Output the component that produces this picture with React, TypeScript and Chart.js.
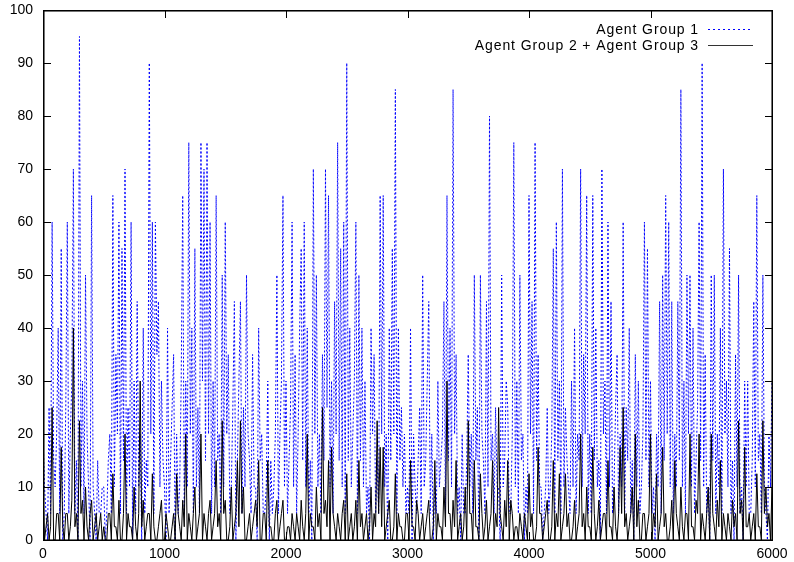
import React, { useEffect, useRef } from "react";
import { Chart, registerables } from "chart.js";

Chart.register(...registerables);

// Sample spacing along the x axis (simulation time units)
const sampleStep = 12.5;

const xTicks = [0, 1000, 2000, 3000, 4000, 5000, 6000];
const yTicks = [0, 10, 20, 30, 40, 50, 60, 70, 80, 90, 100];

const seriesNames = ["Agent Group 1", "Agent Group 2 + Agent Group 3"];

const agentGroup1 = [
  20, 10, 5, 0, 25, 5, 60, 15, 10, 20, 40, 5, 55, 0, 5, 25, 60, 5, 20, 30,
  70, 5, 15, 0, 95, 10, 30, 5, 50, 20, 10, 0, 65, 10, 5, 0, 15, 5, 5, 10,
  10, 0, 5, 15, 20, 5, 65, 10, 35, 20, 60, 5, 55, 15, 70, 5, 25, 10, 60, 0,
  30, 5, 45, 10, 20, 0, 40, 5, 15, 10, 90, 20, 60, 5, 60, 35, 45, 10, 30, 15,
  10, 0, 40, 5, 15, 25, 35, 0, 20, 5, 10, 30, 65, 5, 30, 10, 75, 20, 40, 5,
  55, 10, 25, 5, 75, 30, 70, 15, 75, 20, 60, 5, 30, 10, 65, 15, 20, 5, 50, 10,
  60, 20, 35, 5, 10, 25, 45, 0, 15, 30, 45, 5, 25, 10, 50, 20, 15, 5, 35, 10,
  10, 0, 40, 15, 20, 5, 5, 10, 30, 0, 15, 5, 10, 20, 50, 5, 20, 30, 65, 10,
  30, 5, 15, 25, 60, 10, 35, 5, 20, 40, 55, 15, 60, 10, 40, 5, 15, 0, 70, 20,
  50, 10, 20, 5, 35, 15, 70, 25, 65, 10, 30, 5, 45, 20, 75, 15, 55, 10, 60, 5,
  90, 15, 40, 10, 20, 30, 60, 5, 50, 15, 40, 10, 30, 5, 10, 0, 40, 20, 35, 5,
  15, 5, 65, 20, 65, 10, 20, 0, 40, 15, 55, 20, 85, 5, 40, 15, 25, 10, 20, 5,
  10, 5, 40, 0, 20, 10, 5, 15, 25, 5, 50, 10, 15, 30, 45, 5, 20, 0, 10, 5,
  30, 10, 15, 20, 45, 5, 65, 15, 40, 10, 85, 20, 35, 5, 10, 0, 20, 5, 5, 15,
  35, 10, 20, 5, 50, 15, 25, 0, 50, 20, 15, 5, 45, 10, 80, 15, 20, 5, 25, 10,
  10, 0, 50, 10, 15, 30, 25, 5, 5, 20, 75, 10, 30, 5, 50, 15, 20, 0, 10, 5,
  65, 20, 45, 5, 75, 15, 35, 10, 10, 0, 5, 10, 25, 5, 10, 20, 55, 5, 60, 15,
  30, 5, 70, 10, 25, 15, 10, 5, 30, 10, 40, 5, 20, 15, 70, 10, 35, 20, 65, 5,
  20, 5, 65, 15, 40, 10, 15, 0, 70, 20, 30, 5, 60, 10, 45, 5, 10, 25, 35, 5,
  20, 10, 60, 5, 25, 15, 40, 5, 15, 0, 35, 10, 30, 5, 10, 20, 60, 15, 55, 10,
  30, 5, 10, 0, 20, 10, 45, 5, 50, 15, 65, 20, 60, 10, 45, 5, 20, 10, 45, 15,
  85, 10, 30, 5, 50, 20, 50, 10, 40, 5, 15, 25, 60, 15, 90, 10, 35, 5, 10, 0,
  50, 15, 50, 5, 20, 10, 40, 5, 70, 20, 30, 10, 55, 5, 15, 0, 35, 10, 50, 5,
  10, 0, 30, 10, 30, 5, 5, 15, 45, 10, 65, 15, 20, 5, 50, 10, 5, 0, 20, 10,
  30,
];

const agentGroup23 = [
  10, 0, 2.5, 5, 0, 2.5, 25, 0, 0, 5, 5, 0, 17.5, 2.5, 0, 5, 5, 0, 2.5, 7.5,
  40, 2.5, 5, 0, 22.5, 5, 7.5, 0, 10, 2.5, 0, 5, 7.5, 0, 2.5, 5, 0, 2.5, 5, 0,
  2.5, 0, 0, 5, 5, 0, 12.5, 2.5, 2.5, 0, 7.5, 0, 0, 5, 20, 0, 5, 2.5, 2.5, 0,
  10, 2.5, 0, 5, 30, 2.5, 7.5, 0, 2.5, 5, 5, 0, 12.5, 2.5, 0, 0, 2.5, 5, 7.5, 0,
  0, 5, 2.5, 0, 0, 2.5, 5, 0, 12.5, 5, 2.5, 0, 7.5, 2.5, 20, 0, 5, 2.5, 0, 5,
  10, 0, 2.5, 5, 20, 0, 5, 2.5, 0, 5, 7.5, 0, 2.5, 5, 15, 2.5, 5, 0, 22.5, 5,
  7.5, 0, 0, 2.5, 10, 0, 2.5, 5, 15, 2.5, 22.5, 5, 10, 0, 0, 2.5, 5, 0, 2.5, 5,
  7.5, 2.5, 15, 0, 0, 5, 5, 0, 15, 2.5, 2.5, 0, 0, 5, 7.5, 0, 2.5, 5, 7.5, 0,
  0, 2.5, 2.5, 0, 5, 2.5, 0, 5, 2.5, 0, 7.5, 2.5, 0, 5, 20, 0, 5, 2.5, 2.5, 0,
  10, 2.5, 5, 0, 25, 5, 7.5, 2.5, 15, 0, 17.5, 5, 2.5, 0, 5, 2.5, 0, 5, 7.5, 0,
  12.5, 0, 2.5, 5, 0, 2.5, 7.5, 0, 15, 2.5, 5, 0, 2.5, 5, 0, 2.5, 10, 0, 5, 2.5,
  22.5, 5, 17.5, 2.5, 17.5, 0, 2.5, 5, 7.5, 0, 0, 2.5, 12.5, 0, 5, 2.5, 2.5, 0, 0, 5,
  5, 0, 15, 2.5, 2.5, 0, 7.5, 5, 0, 2.5, 5, 0, 2.5, 5, 7.5, 0, 0, 2.5, 15, 0,
  5, 2.5, 2.5, 0, 10, 2.5, 30, 5, 5, 0, 7.5, 2.5, 15, 0, 2.5, 5, 0, 2.5, 10, 0,
  22.5, 5, 5, 0, 15, 2.5, 2.5, 0, 12.5, 5, 0, 2.5, 7.5, 0, 2.5, 5, 15, 0, 5, 2.5,
  25, 5, 2.5, 0, 7.5, 2.5, 15, 0, 7.5, 5, 0, 2.5, 2.5, 0, 5, 2.5, 0, 5, 2.5, 0,
  12.5, 2.5, 5, 0, 0, 2.5, 17.5, 5, 5, 0, 2.5, 5, 7.5, 0, 0, 2.5, 15, 0, 5, 2.5,
  12.5, 0, 2.5, 5, 12.5, 2.5, 5, 0, 0, 2.5, 7.5, 0, 2.5, 5, 20, 2.5, 5, 0, 10, 2.5,
  2.5, 0, 17.5, 5, 0, 2.5, 7.5, 0, 2.5, 5, 5, 0, 15, 2.5, 2.5, 0, 10, 2.5, 0, 5,
  17.5, 5, 25, 2.5, 5, 0, 2.5, 5, 10, 0, 20, 2.5, 7.5, 0, 0, 5, 5, 0, 2.5, 5,
  20, 0, 5, 2.5, 12.5, 0, 2.5, 5, 17.5, 2.5, 5, 0, 0, 2.5, 7.5, 0, 15, 5, 2.5, 0,
  10, 2.5, 0, 5, 5, 0, 20, 2.5, 2.5, 0, 7.5, 5, 20, 0, 5, 2.5, 0, 5, 10, 0,
  20, 5, 2.5, 0, 7.5, 2.5, 15, 0, 5, 2.5, 0, 5, 2.5, 0, 7.5, 2.5, 5, 0, 22.5, 5,
  7.5, 0, 17.5, 2.5, 2.5, 5, 0, 2.5, 5, 0, 12.5, 2.5, 2.5, 0, 22.5, 5, 10, 2.5, 5, 0,
  10,
];

const FONT = "'Liberation Sans', Arial, sans-serif";
const BLUE = "#0000ff";
const BLACK = "#000000";

const framePlugin = {
  id: "gnuplotFrame",
  afterDraw(chart: any) {
    const { ctx, chartArea, scales } = chart;
    const left = Math.round(chartArea.left);
    const right = Math.round(chartArea.right);
    const top = Math.round(chartArea.top);
    const bottom = Math.round(chartArea.bottom);
    const tick = 8;
    ctx.save();
    ctx.setLineDash([]);
    // frame: dark core plus a soft inner pixel (antialiased look)
    ctx.fillStyle = "rgba(0,0,0,0.55)";
    ctx.fillRect(left, top + 1, right - left + 1, 1);
    ctx.fillRect(left, bottom - 1, right - left + 1, 1);
    ctx.fillRect(left + 1, top, 1, bottom - top + 1);
    ctx.fillRect(right - 1, top, 1, bottom - top + 1);
    ctx.fillStyle = BLACK;
    ctx.fillRect(left, top, right - left + 1, 1);
    ctx.fillRect(left, bottom, right - left + 1, 1);
    ctx.fillRect(left, top, 1, bottom - top + 1);
    ctx.fillRect(right, top, 1, bottom - top + 1);
    // inward ticks on all four sides
    for (const v of xTicks) {
      const px = Math.round(scales.x.getPixelForValue(v));
      ctx.fillRect(px, bottom - tick, 1, tick);
      ctx.fillRect(px, top, 1, tick);
    }
    for (const v of yTicks) {
      const py = Math.round(scales.y.getPixelForValue(v));
      ctx.fillRect(left, py, tick, 1);
      ctx.fillRect(right - tick + 1, py, tick, 1);
    }

    // Legend (top-right, inside plot)
    ctx.font = `14px ${FONT}`;
    try {
      ctx.letterSpacing = "0.9px";
    } catch (e) {}
    ctx.fillStyle = BLACK;
    ctx.textAlign = "right";
    ctx.textBaseline = "alphabetic";
    const textRight = 699;
    const sampleL = 708;
    const sampleR = 753;
    const rows = [29, 45];
    ctx.fillText(seriesNames[0], textRight, rows[0] + 5);
    ctx.fillText(seriesNames[1], textRight, rows[1] + 5);
    ctx.beginPath();
    ctx.lineWidth = 1;
    ctx.strokeStyle = BLUE;
    ctx.setLineDash([2, 3]);
    ctx.moveTo(sampleL, rows[0] + 0.5);
    ctx.lineTo(sampleR, rows[0] + 0.5);
    ctx.stroke();
    ctx.setLineDash([]);
    ctx.beginPath();
    ctx.strokeStyle = "#333";
    ctx.moveTo(sampleL, rows[1] + 0.5);
    ctx.lineTo(sampleR, rows[1] + 0.5);
    ctx.stroke();
    ctx.restore();
  },
};

export default function App() {
  const canvasRef = useRef<HTMLCanvasElement>(null);

  useEffect(() => {
    if (!canvasRef.current) return;
    Chart.defaults.color = BLACK;
    const toPoints = (arr: number[]) => arr.map((v, i) => ({ x: i * sampleStep, y: v }));
    const chart = new Chart(canvasRef.current, {
      type: "line",
      data: {
        datasets: [
          {
            label: seriesNames[1],
            data: toPoints(agentGroup23),
            borderColor: BLACK,
            borderWidth: 1,
            pointRadius: 0,
            tension: 0,
            order: 0,
          },
          {
            label: seriesNames[0],
            data: toPoints(agentGroup1),
            borderColor: BLUE,
            borderWidth: 1,
            borderDash: [2, 2],
            pointRadius: 0,
            tension: 0,
            order: 1,
          },
        ],
      },
      options: {
        animation: false,
        responsive: true,
        maintainAspectRatio: false,
        layout: { padding: { top: 10, right: 22, left: 0, bottom: 0 } },
        plugins: {
          legend: { display: false },
          tooltip: { enabled: false },
        },
        scales: {
          x: {
            type: "linear",
            min: 0,
            max: 6000,
            grid: { display: false, drawTicks: false },
            border: { display: false },
            ticks: {
              stepSize: 1000,
              maxRotation: 0,
              padding: 6,
              color: BLACK,
              font: { family: FONT, size: 14 },
              callback: (v: any) => String(v),
            },
            afterFit: (s: any) => {
              s.height = 22;
              s.paddingLeft = 0;
              s.paddingRight = 0;
            },
          },
          y: {
            type: "linear",
            min: 0,
            max: 100,
            grid: { display: false, drawTicks: false },
            border: { display: false },
            ticks: {
              stepSize: 10,
              padding: 10,
              color: BLACK,
              font: { family: FONT, size: 14 },
              callback: (v: any) => String(v),
            },
            afterFit: (s: any) => {
              s.width = 43;
              s.paddingTop = 0;
              s.paddingBottom = 0;
            },
          },
        },
      },
      plugins: [framePlugin],
    });
    return () => chart.destroy();
  }, []);

  return (
    <div style={{ position: "fixed", left: 0, top: 0, width: 794, height: 562, background: "#fff" }}>
      <canvas ref={canvasRef} />
    </div>
  );
}
